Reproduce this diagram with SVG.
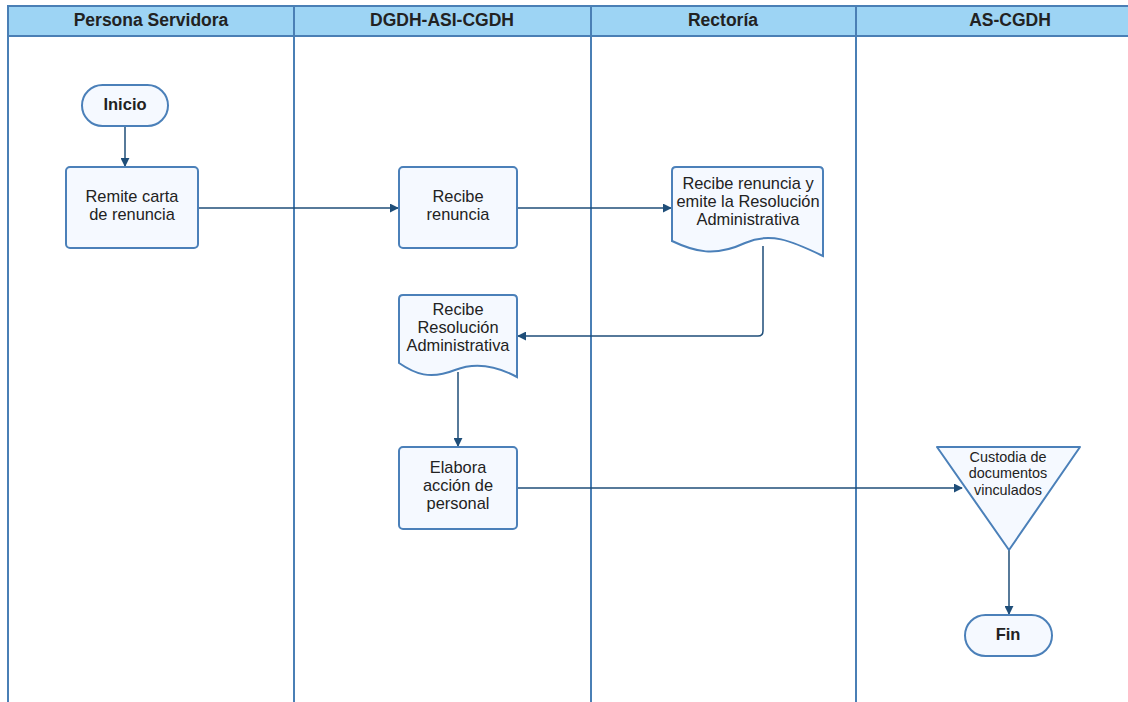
<svg xmlns="http://www.w3.org/2000/svg" width="1128" height="702" viewBox="0 0 1128 702">
  <style>
    .lane { fill: #ffffff; stroke: #4a7fb5; stroke-width: 2; }
    .head { fill: #9dd4f4; stroke: #4a7fb5; stroke-width: 2; }
    .htxt { font-family: "Liberation Sans", Arial, sans-serif; font-size: 17.5px; font-weight: bold; fill: #222222; text-anchor: middle; }
    .node { fill: #f5f9ff; stroke: #4b80b9; stroke-width: 2; }
    .txt { font-family: "Liberation Sans", Arial, sans-serif; font-size: 16.4px; fill: #222222; text-anchor: middle; }
    .btxt { font-family: "Liberation Sans", Arial, sans-serif; font-size: 16.5px; font-weight: bold; fill: #222222; text-anchor: middle; }
    .stxt { font-family: "Liberation Sans", Arial, sans-serif; font-size: 14.4px; fill: #222222; text-anchor: middle; }
    .conn { fill: none; stroke: #1f4e79; stroke-width: 1.5; marker-end: url(#arrow); }
  </style>
  <defs>
    <marker id="arrow" viewBox="0 0 10 10" refX="9" refY="5" markerWidth="9" markerHeight="9" markerUnits="userSpaceOnUse" orient="auto">
      <path d="M0,0 L10,5 L0,10 z" fill="#1f4e79"/>
    </marker>
  </defs>
  <rect width="1128" height="702" fill="#ffffff"/>

  <!-- swimlanes -->
  <g id="lanes">
    <rect class="lane" x="8" y="6" width="286" height="700"/>
    <rect class="lane" x="294" y="6" width="297" height="700"/>
    <rect class="lane" x="591" y="6" width="265" height="700"/>
    <rect class="lane" x="856" y="6" width="280" height="700"/>
    <rect class="head" x="8" y="6" width="286" height="30"/>
    <rect class="head" x="294" y="6" width="297" height="30"/>
    <rect class="head" x="591" y="6" width="265" height="30"/>
    <rect class="head" x="856" y="6" width="280" height="30"/>
    <text class="htxt" x="151" y="26">Persona Servidora</text>
    <text class="htxt" x="442" y="26">DGDH-ASI-CGDH</text>
    <text class="htxt" x="723" y="26">Rectoría</text>
    <text class="htxt" x="1010" y="26">AS-CGDH</text>
  </g>

  <!-- connectors -->
  <g id="connectors">
    <path class="conn" d="M125,126 V166"/>
    <path class="conn" d="M198,208 H398"/>
    <path class="conn" d="M517,208 H671"/>
    <path class="conn" d="M763,246 V331 Q763,336 758,336 H518"/>
    <path class="conn" d="M458,372 V446"/>
    <path class="conn" d="M517,488 H962"/>
    <path class="conn" d="M1009,550 V614"/>
  </g>

  <g id="inicio">
    <rect class="node" x="82" y="85" width="86" height="41" rx="20.5"/>
    <text class="btxt" x="125" y="110">Inicio</text>
  </g>

  <g id="remite">
    <rect class="node" x="66" y="167" width="132" height="81" rx="4"/>
    <text class="txt" x="132" y="202">Remite carta</text>
    <text class="txt" x="132" y="220">de renuncia</text>
  </g>

  <g id="recibe-renuncia">
    <rect class="node" x="399" y="167" width="118" height="81" rx="4"/>
    <text class="txt" x="458" y="202">Recibe</text>
    <text class="txt" x="458" y="220">renuncia</text>
  </g>

  <g id="emite-resolucion">
    <path class="node" d="M676,167 H819 Q823,167 823,171 V256 C790,240 770,232 745,243 C715,257 695,252 672,241 V171 Q672,167 676,167 Z"/>
    <text class="txt" x="748" y="189">Recibe renuncia y</text>
    <text class="txt" x="748" y="207">emite la Resolución</text>
    <text class="txt" x="748" y="225">Administrativa</text>
  </g>

  <g id="recibe-resolucion">
    <path class="node" d="M403,295 H513 Q517,295 517,299 V377 C495,365 475,362 455,370 C430,380 415,374 399,363 V299 Q399,295 403,295 Z"/>
    <text class="txt" x="458" y="315">Recibe</text>
    <text class="txt" x="458" y="333">Resolución</text>
    <text class="txt" x="458" y="351">Administrativa</text>
  </g>

  <g id="elabora">
    <rect class="node" x="399" y="447" width="118" height="82" rx="4"/>
    <text class="txt" x="458" y="473">Elabora</text>
    <text class="txt" x="458" y="491">acción de</text>
    <text class="txt" x="458" y="509">personal</text>
  </g>

  <g id="custodia">
    <path class="node" d="M937,447 H1080 L1009,550 Z" stroke-linejoin="round"/>
    <text class="stxt" x="1008" y="462">Custodia de</text>
    <text class="stxt" x="1008" y="478">documentos</text>
    <text class="stxt" x="1008" y="495">vinculados</text>
  </g>

  <g id="fin">
    <rect class="node" x="965" y="615" width="87" height="41" rx="20.5"/>
    <text class="btxt" x="1008" y="640">Fin</text>
  </g>
</svg>
